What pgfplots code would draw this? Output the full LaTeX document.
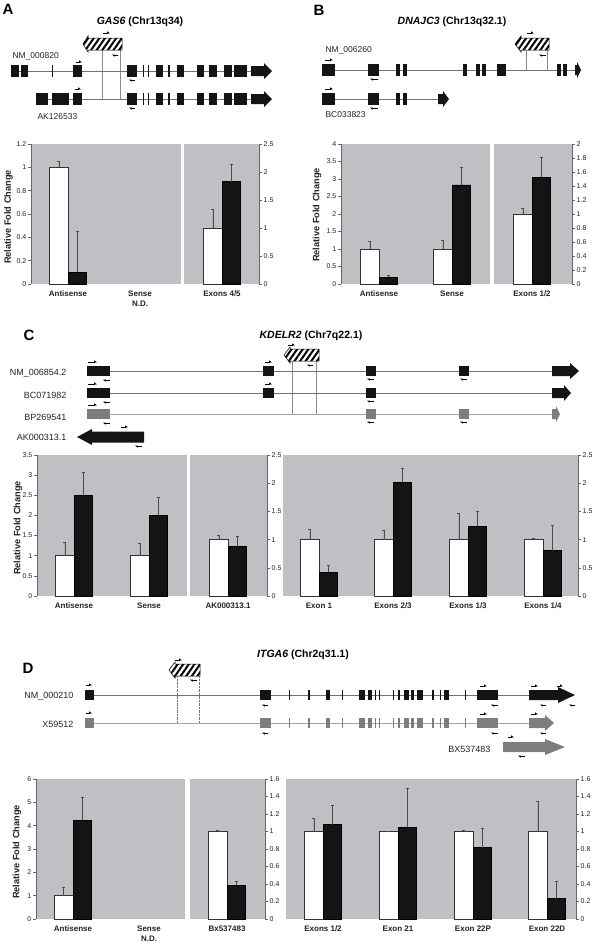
\documentclass[border=0pt]{standalone}
\usepackage{fontspec}
\setmainfont{Liberation Sans}
\usepackage{pgfplots}
\pgfplotsset{compat=1.18}
\usetikzlibrary{patterns.meta,arrows.meta}
\definecolor{pgray}{RGB}{191,191,196}
\definecolor{exb}{RGB}{20,20,20}
\definecolor{exg}{RGB}{125,125,125}
\definecolor{trk}{RGB}{115,115,115}
\definecolor{trkl}{RGB}{165,165,165}
\definecolor{txt}{RGB}{35,35,35}

\newcommand{\ex}[4][exb]{\fill[#1] ([yshift=6pt]axis cs:#2,#4) rectangle ([yshift=-6pt]axis cs:#3,#4);}
\newcommand{\exs}[4][exb]{\fill[#1] ([yshift=5pt]axis cs:#2,#4) rectangle ([yshift=-5pt]axis cs:#3,#4);}
\newcommand{\garr}[5][exb]{\fill[#1] ([yshift=5pt]axis cs:#2,#5) -- ([yshift=5pt]axis cs:#3,#5) -- ([yshift=8pt]axis cs:#3,#5) -- (axis cs:#4,#5) -- ([yshift=-8pt]axis cs:#3,#5) -- ([yshift=-5pt]axis cs:#3,#5) -- ([yshift=-5pt]axis cs:#2,#5) -- cycle;}
\newcommand{\garl}[5][exb]{\fill[#1] (axis cs:#2,#5) -- ([yshift=8pt]axis cs:#3,#5) -- ([yshift=5.5pt]axis cs:#3,#5) -- ([yshift=5.5pt]axis cs:#4,#5) -- ([yshift=-5.5pt]axis cs:#4,#5) -- ([yshift=-5.5pt]axis cs:#3,#5) -- ([yshift=-8pt]axis cs:#3,#5) -- cycle;}
\newcommand{\trk}[4][trk]{\draw[#1, line width=0.7pt] (axis cs:#2,#4) -- (axis cs:#3,#4);}
\newcommand{\pr}[3]{\draw[line width=0.6pt, -{Triangle[harpoon,length=2.5pt,width=3.2pt]}] (axis cs:#1,#3) -- (axis cs:#2,#3);}
\newcommand{\hatch}[6]{\fill[white] (axis cs:#3,#4) -- (axis cs:#2,#4) -- ([yshift=2pt]axis cs:#2,#4) -- (axis cs:#1,#6) -- ([yshift=-2pt]axis cs:#2,#5) -- (axis cs:#2,#5) -- (axis cs:#3,#5) -- cycle;
 \draw[line width=0.5pt, pattern={Lines[angle=55,distance=4.6pt,line width=2pt]}] (axis cs:#3,#4) -- (axis cs:#2,#4) -- ([yshift=2pt]axis cs:#2,#4) -- (axis cs:#1,#6) -- ([yshift=-2pt]axis cs:#2,#5) -- (axis cs:#2,#5) -- (axis cs:#3,#5) -- cycle;}

\newcommand{\letter}{\fontsize{15}{15}\selectfont\bfseries}
\newcommand{\ttl}{\fontsize{10.5}{12}\selectfont\bfseries}
\newcommand{\glab}{\fontsize{8.5}{10}\selectfont\color{txt}}
\newcommand{\glabc}{\fontsize{9}{10}\selectfont\color{txt}}
\newcommand{\hdr}{\fontsize{10}{12}\selectfont\bfseries\color{txt}}
\newcommand{\ylab}{\fontsize{9.2}{11}\selectfont\bfseries\color{txt}}

\pgfplotsset{
  bp/.style={scale only axis, anchor=south west, ymin=0, clip=false,
    axis background/.style={fill=pgray},
    axis x line*=bottom, x axis line style={draw=none}, xtick style={draw=none},
    y axis line style={line width=0.6pt, color=black!60, -},
    ytick align=outside, major tick length=3pt, ytick style={line width=0.5pt, color=black!60},
    yticklabel style={font=\fontsize{7}{8}\selectfont, color=txt, inner sep=1.5pt},
    xticklabel style={font=\fontsize{8}{10}\selectfont\bfseries, color=txt, align=center, yshift=-3pt},
    /pgf/number format/assume math mode=true},
  eb/.style={error bars/.cd, y dir=plus, y explicit, error mark=-,
    error bar style={line width=0.5pt, color=black!70},
    error mark options={rotate=90, line width=0.5pt, color=black!70, mark size=1.5pt}},
  wb/.style={ybar, bar width=18.5pt, bar shift=0pt, fill=white, draw=black!80, line width=0.5pt, eb},
  bb/.style={ybar, bar width=18.5pt, bar shift=0pt, fill=exb, draw=black, line width=0.5pt, eb},
}

\begin{document}
\begin{tikzpicture}
\useasboundingbox (0,0) rectangle (600pt,-942pt);

% ---------- overlay: gene diagrams and texts ----------
\begin{axis}[at={(0,0)}, anchor=north west, scale only axis, width=600pt, height=942pt,
  xmin=0, xmax=600, ymin=0, ymax=942, y dir=reverse, hide axis, clip=false]
% Panel A
\node[font=\letter] at (axis cs:8,9) {A};
\node[font=\ttl] at (axis cs:140,22) {\textit{GAS6} (Chr13q34)};
\node[font=\glab, anchor=west] at (axis cs:9,56) {NM\_000820};
\node[font=\glab, anchor=west] at (axis cs:34,117) {AK126533};
\draw[black!45, line width=0.4pt] (axis cs:102,50) -- (axis cs:102,99);
\draw[black!45, line width=0.4pt] (axis cs:120,50) -- (axis cs:120,99);
\trk{11}{251}{71}
\trk{36}{251}{99}
\ex{11}{19}{71} \ex{21}{28}{71} \ex{52}{53.2}{71} \ex{73}{82}{71}
\ex{127}{137}{71} \ex{143}{144.3}{71} \ex{148}{149.3}{71} \ex{156}{163}{71} \ex{168}{169.5}{71}
\ex{177}{184}{71} \ex{197}{204}{71} \ex{209}{217}{71} \ex{224}{232}{71} \ex{234}{247}{71}
\garr{251}{264}{272}{71}
\ex{36}{48}{99} \ex{52}{69}{99} \ex{73}{82}{99}
\ex{127}{137}{99} \ex{143}{144.3}{99} \ex{148}{149.3}{99} \ex{156}{163}{99} \ex{168}{169.5}{99}
\ex{177}{184}{99} \ex{197}{204}{99} \ex{209}{217}{99} \ex{224}{232}{99} \ex{234}{247}{99}
\garr{251}{264}{272}{99}
\hatch{83}{88}{122}{38}{50}{44}
\pr{76}{82}{62} \pr{135}{129}{80} \pr{103}{110}{33} \pr{118}{112}{55}
\pr{75}{81}{89} \pr{135}{129}{108}
\node[font=\hdr] at (axis cs:102,151) {Intronic};
\node[font=\hdr] at (axis cs:222,151) {Exonic};
\node[font=\ylab, rotate=90] at (axis cs:8.5,217) {Relative Fold Change};
% Panel B
\node[font=\letter] at (axis cs:319,10) {B};
\node[font=\ttl] at (axis cs:452,22) {\textit{DNAJC3} (Chr13q32.1)};
\node[font=\glab, anchor=west] at (axis cs:322,50) {NM\_006260};
\node[font=\glab, anchor=west] at (axis cs:322,115) {BC033823};
\draw[black!45, line width=0.4pt] (axis cs:526,50) -- (axis cs:526,70);
\draw[black!45, line width=0.4pt] (axis cs:547,50) -- (axis cs:547,70);
\trk{335}{575}{70}
\trk{335}{438}{99}
\ex{322}{335}{70} \ex{368}{379}{70} \ex{396}{400}{70} \ex{403}{407}{70} \ex{463}{467}{70}
\ex{476}{480}{70} \ex{482}{486}{70} \ex{497}{506}{70} \ex{557}{561}{70} \ex{563}{567}{70}
\garr{575}{577}{581}{70}
\ex{322}{335}{99} \ex{368}{379}{99} \ex{396}{400}{99} \ex{403}{407}{99}
\garr{438}{443}{449}{99}
\hatch{515}{521}{549}{38}{50}{44}
\pr{325}{333}{60} \pr{378}{370}{79} \pr{527}{534}{33} \pr{546}{539}{55}
\pr{325}{333}{89} \pr{378}{370}{108}
\node[font=\hdr] at (axis cs:413,150) {Intronic};
\node[font=\hdr] at (axis cs:533,150) {Exonic};
\node[font=\ylab, rotate=90] at (axis cs:317,215) {Relative Fold Change};
% Panel C
\node[font=\letter] at (axis cs:29,335) {C};
\node[font=\ttl] at (axis cs:311,336) {\textit{KDELR2} (Chr7q22.1)};
\node[font=\glabc, anchor=east] at (axis cs:70,373) {NM\_006854.2};
\node[font=\glabc, anchor=east] at (axis cs:70,395) {BC071982};
\node[font=\glabc, anchor=east] at (axis cs:70,417) {BP269541};
\node[font=\glabc, anchor=east] at (axis cs:70,437) {AK000313.1};
\draw[black!45, line width=0.4pt] (axis cs:292,361) -- (axis cs:292,414);
\draw[black!45, line width=0.4pt] (axis cs:316,361) -- (axis cs:316,414);
\trk{110}{552}{371}
\trk{110}{552}{393}
\trk[trkl]{110}{552}{414}
\exs{87}{110}{371} \exs{263}{274}{371} \exs{366}{376}{371} \exs{459}{469}{371}
\garr{552}{570}{579}{371}
\exs{87}{110}{393} \exs{263}{274}{393} \exs{366}{376}{393}
\garr{552}{564}{571}{393}
\exs[exg]{87}{110}{414} \exs[exg]{366}{376}{414} \exs[exg]{459}{469}{414}
\garr[exg]{552}{556}{560}{414}
\garl{77}{92}{144}{437}
\hatch{284}{290}{319}{349}{361}{355}
\pr{88}{97}{362} \pr{110}{103}{380} \pr{265}{272}{362} \pr{374}{367}{379} \pr{467}{460}{379}
\pr{88}{97}{384} \pr{110}{103}{402} \pr{265}{272}{384} \pr{374}{367}{401}
\pr{88}{97}{405} \pr{110}{103}{423} \pr{374}{367}{422} \pr{467}{460}{422}
\pr{121}{128}{427} \pr{142}{135}{446}
\pr{288}{295}{345} \pr{313}{307}{365}
\node[font=\hdr] at (axis cs:112,465) {Intronic};
\node[font=\hdr] at (axis cs:437,465) {Exonic};
\node[font=\ylab, rotate=90] at (axis cs:18,528) {Relative Fold Change};
% Panel D
\node[font=\letter] at (axis cs:28,668) {D};
\node[font=\ttl] at (axis cs:303,655) {\textit{ITGA6} (Chr2q31.1)};
\node[font=\glabc, anchor=east] at (axis cs:77,696) {NM\_000210};
\node[font=\glabc, anchor=east] at (axis cs:77,724) {X59512};
\node[font=\glabc, anchor=east] at (axis cs:494,749) {BX537483};
\draw[black!55, line width=0.4pt, densely dotted] (axis cs:177,676) -- (axis cs:177,723);
\draw[black!55, line width=0.4pt, densely dotted] (axis cs:199,676) -- (axis cs:199,723);
\trk{94}{529}{695}
\trk[trkl]{94}{529}{723}
\exs{85}{94}{695} \exs{260}{271}{695} \exs{289}{290.3}{695} \exs{308}{310}{695} \exs{326}{330}{695}
\exs{342}{343.3}{695} \exs{359}{365}{695} \exs{368}{372}{695} \exs{375}{376.3}{695} \exs{379}{380.3}{695}
\exs{393}{394.3}{695} \exs{398}{400}{695} \exs{404}{409}{695} \exs{411}{414}{695} \exs{417}{423}{695}
\exs{432}{434}{695} \exs{440}{441.3}{695} \exs{444}{449}{695} \exs{465}{466.3}{695} \exs{477}{498}{695}
\garr{529}{558}{575}{695}
\exs[exg]{85}{94}{723} \exs[exg]{260}{271}{723} \exs[exg]{289}{290.3}{723} \exs[exg]{308}{310}{723} \exs[exg]{326}{330}{723}
\exs[exg]{342}{343.3}{723} \exs[exg]{359}{365}{723} \exs[exg]{368}{372}{723} \exs[exg]{375}{376.3}{723} \exs[exg]{379}{380.3}{723}
\exs[exg]{393}{394.3}{723} \exs[exg]{398}{400}{723} \exs[exg]{404}{409}{723} \exs[exg]{411}{414}{723} \exs[exg]{417}{423}{723}
\exs[exg]{432}{434}{723} \exs[exg]{440}{441.3}{723} \exs[exg]{444}{449}{723} \exs[exg]{465}{466.3}{723} \exs[exg]{477}{498}{723}
\garr[exg]{529}{545}{554}{723}
\garr[exg]{503}{545}{565}{747}
\hatch{169}{175}{200}{664}{676}{670}
\pr{86}{92}{685} \pr{268}{262}{705} \pr{86}{92}{713} \pr{268}{262}{733}
\pr{175}{182}{660} \pr{197}{190}{680}
\pr{480}{487}{686} \pr{498}{491}{705} \pr{531}{538}{686} \pr{546}{540}{705} \pr{557}{563}{686} \pr{575}{569}{705}
\pr{480}{487}{714} \pr{498}{491}{733} \pr{531}{538}{714} \pr{546}{540}{733}
\pr{508}{514}{737} \pr{525}{518}{756}
\node[font=\hdr] at (axis cs:111,788) {Intronic};
\node[font=\hdr] at (axis cs:442,787) {Exonic};
\node[font=\ylab, rotate=90] at (axis cs:17,852) {Relative Fold Change};
\end{axis}

% ---------- Panel A bar charts ----------
\begin{axis}[bp, at={(31pt,-284pt)}, width=150pt, height=140pt, xmin=31, xmax=181,
  ymax=1.2, ytick={0,0.2,0.4,0.6,0.8,1,1.2}, axis y line*=left,
  xtick={68,140}, xticklabels={Antisense, Sense\\N.D.}]
\addplot[wb] coordinates {(58.75,1.00) +- (0,0.05)};
\addplot[bb] coordinates {(77.25,0.10) +- (0,0.35)};
\end{axis}
\begin{axis}[bp, at={(184pt,-284pt)}, width=75pt, height=140pt, xmin=184, xmax=259,
  ymax=2.5, ytick={0,0.5,1,1.5,2,2.5}, axis y line*=right,
  xtick={222}, xticklabels={Exons 4/5}]
\addplot[wb] coordinates {(212.75,1.00) +- (0,0.34)};
\addplot[bb] coordinates {(231.25,1.83) +- (0,0.30)};
\end{axis}

% ---------- Panel B bar charts ----------
\begin{axis}[bp, at={(341pt,-284pt)}, width=149pt, height=140pt, xmin=341, xmax=490,
  ymax=4, ytick={0,0.5,1,1.5,2,2.5,3,3.5,4}, axis y line*=left,
  xtick={379,452}, xticklabels={Antisense, Sense}]
\addplot[wb] coordinates {(369.75,1.00) +- (0,0.21) (442.75,1.00) +- (0,0.26)};
\addplot[bb] coordinates {(388.25,0.20) +- (0,0.05) (461.25,2.83) +- (0,0.52)};
\end{axis}
\begin{axis}[bp, at={(494pt,-284pt)}, width=78pt, height=140pt, xmin=494, xmax=572,
  ymax=2, ytick={0,0.2,0.4,0.6,0.8,1,1.2,1.4,1.6,1.8,2}, axis y line*=right,
  xtick={532}, xticklabels={Exons 1/2}]
\addplot[wb] coordinates {(522.75,1.00) +- (0,0.08)};
\addplot[bb] coordinates {(541.25,1.53) +- (0,0.28)};
\end{axis}

% ---------- Panel C bar charts ----------
\begin{axis}[bp, at={(37pt,-596pt)}, width=150pt, height=141pt, xmin=37, xmax=187,
  ymax=3.5, ytick={0,0.5,1,1.5,2,2.5,3,3.5}, axis y line*=left,
  xtick={74,149}, xticklabels={Antisense, Sense}]
\addplot[wb] coordinates {(64.75,1.00) +- (0,0.33) (139.75,1.00) +- (0,0.30)};
\addplot[bb] coordinates {(83.25,2.50) +- (0,0.57) (158.25,2.00) +- (0,0.45)};
\end{axis}
\begin{axis}[bp, at={(190pt,-596pt)}, width=77pt, height=141pt, xmin=190, xmax=267,
  ymax=2.5, ytick={0,0.5,1,1.5,2,2.5}, axis y line*=right,
  xtick={228}, xticklabels={AK000313.1}]
\addplot[wb] coordinates {(218.75,1.00) +- (0,0.08)};
\addplot[bb] coordinates {(237.25,0.89) +- (0,0.17)};
\end{axis}
\begin{axis}[bp, at={(283pt,-596pt)}, width=295pt, height=141pt, xmin=283, xmax=578,
  ymax=2.5, ytick={0,0.5,1,1.5,2,2.5}, axis y line*=right,
  xtick={319,393,468,543}, xticklabels={Exon 1, Exons 2/3, Exons 1/3, Exons 1/4}]
\addplot[wb] coordinates {(309.75,1.00) +- (0,0.19) (383.75,1.00) +- (0,0.16) (458.75,1.00) +- (0,0.47) (533.75,1.00) +- (0,0.02)};
\addplot[bb] coordinates {(328.25,0.42) +- (0,0.12) (402.25,2.02) +- (0,0.25) (477.25,1.235) +- (0,0.265) (552.25,0.805) +- (0,0.445)};
\end{axis}

% ---------- Panel D bar charts ----------
\begin{axis}[bp, at={(36pt,-919pt)}, width=149pt, height=140pt, xmin=36, xmax=185,
  ymax=6, ytick={0,1,2,3,4,5,6}, axis y line*=left,
  xtick={73,149}, xticklabels={Antisense, Sense\\N.D.}]
\addplot[wb] coordinates {(63.75,1.00) +- (0,0.37)};
\addplot[bb] coordinates {(82.25,4.23) +- (0,1.00)};
\end{axis}
\begin{axis}[bp, at={(190pt,-919pt)}, width=75pt, height=140pt, xmin=190, xmax=265,
  ymax=1.6, ytick={0,0.2,0.4,0.6,0.8,1,1.2,1.4,1.6}, axis y line*=right,
  xtick={227}, xticklabels={Bx537483}]
\addplot[wb] coordinates {(217.75,1.00) +- (0,0.01)};
\addplot[bb] coordinates {(236.25,0.39) +- (0,0.04)};
\end{axis}
\begin{axis}[bp, at={(286pt,-919pt)}, width=290pt, height=140pt, xmin=286, xmax=576,
  ymax=1.6, ytick={0,0.2,0.4,0.6,0.8,1,1.2,1.4,1.6}, axis y line*=right,
  xtick={323,398,473,547}, xticklabels={Exons 1/2, Exon 21, Exon 22P, Exon 22D}]
\addplot[wb] coordinates {(313.75,1.00) +- (0,0.15) (388.75,1.00) +- (0,0.005) (463.75,1.00) +- (0,0.02) (537.75,1.00) +- (0,0.35)};
\addplot[bb] coordinates {(332.25,1.08) +- (0,0.22) (407.25,1.05) +- (0,0.45) (482.25,0.815) +- (0,0.225) (556.25,0.24) +- (0,0.19)};
\end{axis}
\end{tikzpicture}
\end{document}
